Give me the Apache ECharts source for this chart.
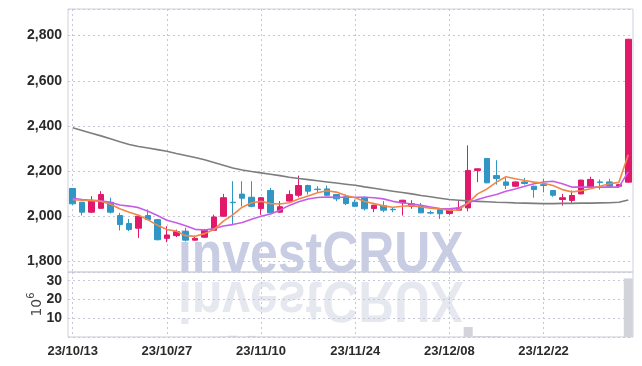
<!DOCTYPE html>
<html><head><meta charset="utf-8">
<script src="https://cdn.jsdelivr.net/npm/echarts@6/dist/echarts.min.js"></script>
<style>html,body{margin:0;padding:0;background:#fff}#c{width:642px;height:366px}</style>
</head><body><div id="c"></div>
<script>
const dates = ['23/10/13','23/10/16','23/10/17','23/10/18','23/10/19','23/10/20','23/10/23','23/10/24','23/10/25','23/10/26',
 '23/10/27','23/10/30','23/10/31','23/11/01','23/11/02','23/11/03','23/11/06','23/11/07','23/11/08','23/11/09',
 '23/11/10','23/11/13','23/11/14','23/11/15','23/11/16','23/11/17','23/11/20','23/11/21','23/11/22','23/11/23',
 '23/11/24','23/11/27','23/11/28','23/11/29','23/11/30','23/12/01','23/12/04','23/12/05','23/12/06','23/12/07',
 '23/12/08','23/12/11','23/12/12','23/12/13','23/12/14','23/12/15','23/12/18','23/12/19','23/12/20','23/12/21',
 '23/12/22','23/12/26','23/12/27','23/12/28','24/01/02','24/01/03','24/01/04','24/01/05','24/01/08','24/01/09'];
const opens = [2123,2062,2018,2035,2062,2003,1968,1947,2003,1985,
 1902,1914,1932,1894,1907,1938,2000,2062,2098,2084,
 2034,2114,2018,2067,2093,2136,2120,2121,2096,2086,
 2062,2084,2034,2047,2031,2059,2044,2044,2016,2030,
 2012,2027,2037,2203,2256,2180,2152,2133,2152,2133,
 2140,2114,2074,2070,2099,2130,2152,2152,2133,2151];
const closes = [2055,2018,2070,2096,2018,1963,1941,2000,1985,1896,
 1917,1932,1894,1902,1938,1997,2082,2060,2080,2044,
 2082,2015,2042,2096,2136,2111,2118,2093,2077,2056,
 2044,2033,2049,2027,2029,2071,2055,2015,2014,2011,
 2030,2037,2203,2210,2148,2167,2137,2152,2145,2118,
 2136,2093,2082,2092,2160,2163,2150,2133,2140,2784];
const lows = [2050,2003,2014,2033,2012,1937,1934,1904,1983,1893,
 1885,1908,1888,1892,1905,1936,1998,1963,2044,2040,
 2007,2013,2016,2065,2084,2096,2104,2091,2067,2049,
 2042,2025,2018,2018,2018,2003,2033,2013,2009,1988,
 2007,2025,2022,2151,2146,2140,2121,2130,2140,2082,
 2106,2086,2047,2059,2097,2128,2118,2131,2131,2149];
const highs = [2125,2064,2089,2111,2082,2015,1988,2007,2030,1988,
 1956,1941,1949,1914,1944,2007,2099,2155,2155,2155,
 2084,2126,2067,2115,2180,2140,2133,2136,2098,2096,
 2074,2086,2051,2067,2040,2073,2071,2059,2025,2032,
 2032,2067,2314,2212,2258,2248,2170,2154,2170,2135,
 2166,2116,2099,2114,2162,2175,2163,2166,2142,2786];
const ma5 = [2073,2071,2069,2066,2053,2033,2018,2004,1984,1960,
 1941,1934,1914,1911,1923,1941,1978,2006,2040,2060,
 2066,2056,2054,2060,2076,2090,2104,2113,2107,2092,
 2082,2065,2056,2046,2040,2044,2047,2041,2036,2032,
 2027,2028,2059,2099,2121,2151,2175,2166,2158,2151,
 2146,2136,2118,2108,2113,2122,2133,2144,2150,2272];
const ma10 = [2080,2074,2071,2068,2062,2050,2045,2038,2022,2003,
 1982,1971,1958,1942,1939,1945,1957,1963,1972,1987,
 2000,2010,2027,2048,2064,2076,2083,2085,2084,2084,
 2084,2084,2082,2077,2066,2060,2054,2048,2041,2034,
 2033,2037,2059,2074,2086,2096,2111,2121,2133,2144,
 2152,2155,2144,2129,2129,2129,2129,2129,2129,2197];
const maLong = [2392,2380,2368,2356,2343,2330,2318,2309,2302,2295,
 2288,2278,2269,2260,2250,2238,2226,2214,2205,2198,
 2192,2186,2180,2173,2167,2162,2157,2152,2147,2142,
 2137,2130,2124,2117,2111,2105,2099,2092,2086,2080,
 2074,2071,2068,2066,2064,2062,2061,2059,2058,2057,
 2056,2056,2057,2057,2058,2058,2059,2060,2062,2072];
const volumes = [0.12,0.10,0.11,0.14,0.09,0.10,0.08,0.13,0.07,0.11,
 0.09,0.06,0.08,0.05,0.07,0.12,0.25,0.65,0.20,0.60,
 0.18,0.22,0.10,0.14,0.20,0.12,0.08,0.09,0.07,0.08,
 0.06,0.07,0.05,0.06,0.05,0.08,0.06,0.07,0.05,0.06,
 0.07,0.09,5.3,0.55,0.50,0.45,0.15,0.10,0.09,0.08,
 0.07,0.08,0.06,0.07,0.12,0.10,0.08,0.07,0.09,31.2];

const FONT = "'Liberation Sans',Arial,sans-serif";
const UP = '#e2196b', DOWN = '#2f96c6';
const gridLS = {color:'#c6c8da', type:[2,3], width:1};
const candleData = dates.map((d,i)=>[opens[i],closes[i],lows[i],highs[i]]);
const yLbl = {fontFamily:FONT, fontWeight:'bold', fontSize:14, color:'#2a2a2a'};
const xLbl = {fontFamily:FONT, fontWeight:'bold', fontSize:13, color:'#2a2a2a'};

const chart = echarts.init(document.getElementById('c'));
chart.setOption({
  animation:false,
  grid:[
    {left:68,right:9,top:9,height:263,show:true,borderColor:'#cfd0da',borderWidth:1},
    {left:68,right:9,top:272,height:65,show:true,borderColor:'#cfd0da',borderWidth:1}
  ],
  graphic:[
    {type:'text', x:178, y:276, scaleX:0.86, z:0, silent:true,
     style:{text:'investCRUX', x:0, y:-20, verticalAlign:'middle', fill:'#c8cde3',
            font:"bold 58px 'Liberation Sans', Arial, sans-serif"}},
    {type:'text', x:178, y:278, scaleX:0.86, scaleY:-1, z:0, silent:true,
     style:{text:'investCRUX', x:0, y:-20, verticalAlign:'middle', fill:'#e6e8f0',
            font:"bold 58px 'Liberation Sans', Arial, sans-serif"}}
  ],
  xAxis:[
    {type:'category', gridIndex:0, data:dates, boundaryGap:true,
     axisLine:{show:false}, axisTick:{show:false}, axisLabel:{show:false},
     splitLine:{show:true, interval:9, alignWithLabel:true, lineStyle:gridLS}},
    {type:'category', gridIndex:1, data:dates, boundaryGap:true,
     axisLine:{show:false}, axisTick:{show:false},
     axisLabel:Object.assign({interval:9, margin:8}, xLbl),
     splitLine:{show:true, interval:9, alignWithLabel:true, lineStyle:gridLS}}
  ],
  yAxis:[
    {type:'value', gridIndex:0, min:1753, max:2918, splitNumber:5, scale:true,
     axisLine:{show:false}, axisTick:{show:false},
     axisLabel:Object.assign({showMinLabel:false, showMaxLabel:false, margin:6,
       formatter:v=>echarts.format.addCommas(v)}, yLbl),
     splitLine:{show:true, lineStyle:gridLS}},
    {type:'value', gridIndex:1, min:0, max:34.6, splitNumber:3,
     name:'{a|10}{b|6}', nameLocation:'middle', nameRotate:90, nameGap:24, nameMoveOverlap:false,
     nameTextStyle:{fontFamily:"'DejaVu Sans',sans-serif", color:'#444',
       rich:{a:{fontSize:14, fontFamily:"'DejaVu Sans',sans-serif", color:'#444', lineHeight:18, verticalAlign:'bottom'},
             b:{fontSize:10, fontFamily:"'DejaVu Sans',sans-serif", color:'#444', lineHeight:18, verticalAlign:'top'}}},
     axisLine:{show:false}, axisTick:{show:false},
     axisLabel:Object.assign({showMinLabel:false, showMaxLabel:false, margin:6}, yLbl),
     splitLine:{show:true, lineStyle:gridLS}}
  ],
  series:[
    {type:'candlestick', xAxisIndex:0, yAxisIndex:0, data:candleData, barWidth:6, z:3,
     itemStyle:{color:UP, color0:DOWN, borderColor:UP, borderColor0:DOWN, borderWidth:1}},
    {type:'line', xAxisIndex:0, yAxisIndex:0, data:maLong, symbol:'none', z:4,
     lineStyle:{color:'#7d7d7d', width:1.6}},
    {type:'line', xAxisIndex:0, yAxisIndex:0, data:ma10, symbol:'none', z:4,
     lineStyle:{color:'#c85ce8', width:1.6}},
    {type:'line', xAxisIndex:0, yAxisIndex:0, data:ma5, symbol:'none', z:4,
     lineStyle:{color:'#f0884a', width:1.6}},
    {type:'bar', xAxisIndex:1, yAxisIndex:1, data:volumes, barCategoryGap:'4%', z:3,
     itemStyle:{color:'#d3d3db'}}
  ]
});
</script></body></html>
